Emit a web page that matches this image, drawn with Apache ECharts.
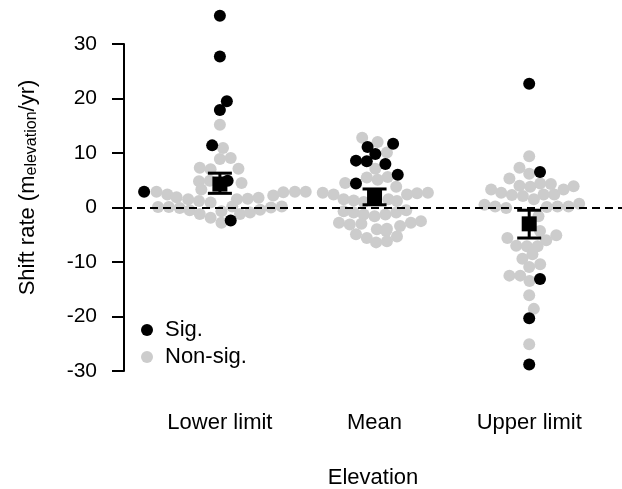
<!DOCTYPE html>
<html>
<head>
<meta charset="utf-8">
<script src="https://cdn.jsdelivr.net/npm/echarts@6/dist/echarts.min.js"></script>
<style>
html,body{margin:0;padding:0;background:#fff;}
#c{width:622px;height:489px;}
</style>
</head>
<body>
<div id="c"></div>
<script>
// Categories and tick labels
const categories = ['Lower limit', 'Mean', 'Upper limit'];
const yTicks = [-30, -20, -10, 0, 10, 20, 30];

// Points: [shift rate, horizontal swarm offset in category units]
const lowerSig = [[35.2,0.0],[27.7,0.0],[19.5,0.045],[17.9,0.0],[11.4,-0.05],[4.9,0.05],[2.9,-0.49],[-2.4,0.07]];
const lowerNon = [[15.2,0.0],[10.9,0.02],[8.9,0.0],[9.1,0.07],[7.3,-0.13],[7.0,-0.06],[7.1,0.12],[4.8,-0.135],[4.9,-0.065],[4.5,0.14],
  [3.3,-0.12],[2.9,-0.41],[2.4,-0.34],[1.9,-0.28],[1.5,-0.205],[1.2,-0.135],[1.5,0.11],[1.6,0.18],[1.8,0.25],[2.2,0.345],[2.8,0.41],[2.9,0.485],[2.9,0.555],
  [0.1,-0.40],[0.1,-0.33],[-0.1,-0.26],[-0.5,-0.195],[-1.2,-0.13],[-1.9,-0.06],[-2.8,0.01],[-0.7,0.01],[0.9,-0.06],[0.2,0.08],[-1.2,0.13],[-0.9,0.195],[-0.4,0.26],[0.0,0.33],[0.2,0.40]];
const meanSig = [[11.1,-0.045],[11.7,0.12],[9.8,0.005],[8.6,-0.12],[8.5,-0.05],[8.0,0.07],[6.0,0.15],[4.4,-0.12]];
const meanNon = [[12.8,-0.08],[12.0,0.02],[10.1,0.08],[7.1,0.005],[5.5,-0.05],[5.1,0.02],[5.6,0.085],[4.5,-0.19],[3.8,0.14],
  [2.7,-0.335],[2.4,-0.265],[1.5,-0.2],[1.3,-0.135],[1.0,-0.07],[1.5,0.09],[1.2,0.145],[2.4,0.21],[2.6,0.275],[2.7,0.345],
  [-0.7,-0.2],[-0.9,-0.135],[-1.3,-0.07],[-1.6,0.0],[-1.3,0.07],[-0.9,0.14],[-0.5,0.205],
  [-2.8,-0.23],[-3.1,-0.16],[-3.0,-0.085],[-3.9,0.08],[-3.4,0.165],[-2.8,0.235],[-2.5,0.30],
  [-4.9,-0.12],[-4.0,0.015],[-4.3,0.075],[-5.3,0.145],[-5.6,-0.05],[-6.4,0.01],[-6.2,0.08]];
const upperSig = [[22.7,0.0],[6.5,0.07],[-13.1,0.07],[-20.3,0.0],[-28.8,0.0]];
const upperNon = [[9.4,0.0],[7.3,-0.063],[6.2,0.0],[5.3,-0.128],[4.0,-0.063],[3.8,0.007],[4.4,0.071],[4.3,0.14],
  [3.3,-0.246],[2.7,-0.181],[2.3,-0.112],[2.1,-0.041],[1.5,0.03],[2.4,0.093],[2.4,0.162],[3.3,0.222],[3.9,0.287],
  [0.5,-0.289],[0.2,-0.22],[-0.1,-0.149],[0.1,0.114],[0.2,0.183],[0.2,0.254],[0.7,0.323],[-1.6,0.06],
  [-5.6,-0.141],[-4.3,0.07],[-5.1,0.175],[-6.0,0.11],[-7.0,-0.084],[-7.1,-0.015],[-7.1,0.054],[-8.6,0.021],[-9.4,-0.044],
  [-10.9,0.0],[-10.4,0.071],[-12.5,-0.128],[-12.5,-0.058],[-13.5,0.002],[-16.1,0.0],[-18.6,0.03],[-25.1,0.0]];

// Group means with error bars
const means = [4.3, 1.9, -3.0];
const errLow = [2.6, 0.5, -5.6];
const errHigh = [6.3, 3.4, -0.5];

const FONT = '"Liberation Sans", Arial, sans-serif';

function toXY(list, catIdx) {
  return list.map(([v, off]) => [catIdx + 1 + off, v]);
}
const sigData = [].concat(toXY(lowerSig,0), toXY(meanSig,1), toXY(upperSig,2));
const nonData = [].concat(toXY(lowerNon,0), toXY(meanNon,1), toXY(upperNon,2));
const meanData = means.map((m,i) => [i+1, m]);
const errData = means.map((m,i) => [i+1, errLow[i], errHigh[i]]);

const chart = echarts.init(document.getElementById('c'), null, {renderer:'canvas'});
chart.setOption({
  animation: false,
  backgroundColor: '#fff',
  textStyle: {fontFamily: FONT, color: '#000'},
  grid: {left: 124, right: 0, top: 44, bottom: 118, containLabel: false, outerBoundsMode: 'none'},
  legend: {
    data: ['Sig.', 'Non-sig.'],
    orient: 'vertical',
    left: 136, top: 314,
    icon: 'circle',
    itemWidth: 12, itemHeight: 12,
    itemGap: 5,
    textStyle: {fontFamily: FONT, fontSize: 22, color: '#000', padding: [0,0,0,7]}
  },
  xAxis: {
    type: 'value', min: 0.38, max: 3.6,
    axisLine: {show: false}, axisTick: {show: false}, splitLine: {show: false},
    axisLabel: {
      customValues: [1, 2, 3],
      formatter: v => categories[Math.round(v) - 1] || '',
      fontFamily: FONT, fontSize: 22, color: '#000', margin: 41
    },
    name: 'Elevation', nameLocation: 'middle', nameGap: 96,
    nameTextStyle: {fontFamily: FONT, fontSize: 22, color: '#000'}
  },
  yAxis: {
    type: 'value', min: -30, max: 30, interval: 10,
    axisLine: {show: true, lineStyle: {color: '#000', width: 2}},
    axisTick: {show: true, length: 12, lineStyle: {color: '#000', width: 2}},
    splitLine: {show: false},
    axisLabel: {fontFamily: FONT, fontSize: 21, color: '#000', margin: 27,
      formatter: v => yTicks.includes(v) ? String(v) : ''},
    name: '{a|Shift rate (m}{b|elevation}{a|/yr)}',
    nameLocation: 'middle', nameRotate: 90, nameGap: 84,
    nameTextStyle: {
      padding: [0, 0, 0, 40],
      rich: {
        a: {fontFamily: FONT, fontSize: 22, color: '#000'},
        b: {fontFamily: FONT, fontSize: 16, color: '#000', padding: [9,0,0,0]}
      }
    }
  },
  series: [
    {
      name: 'Non-sig.', type: 'scatter', data: nonData, symbolSize: 12, clip: false, z: 2,
      itemStyle: {color: '#cccccc', opacity: 1},
      markLine: {
        silent: true, symbol: 'none', label: {show: false},
        lineStyle: {color: '#000', width: 2, type: [8, 5]},
        data: [{yAxis: 0}]
      }
    },
    {
      name: 'Sig.', type: 'scatter', data: sigData, symbolSize: 12, clip: false, z: 3,
      itemStyle: {color: '#000', opacity: 1}
    },
    {
      name: 'err', type: 'custom', data: errData, z: 10, clip: false,
      renderItem: function(params, api) {
        const x = api.value(0);
        const pLo = api.coord([x, api.value(1)]);
        const pHi = api.coord([x, api.value(2)]);
        const hw = 12;
        const st = {stroke: '#000', lineWidth: 3};
        return {type: 'group', children: [
          {type: 'line', shape: {x1: pLo[0], y1: pLo[1], x2: pHi[0], y2: pHi[1]}, style: st},
          {type: 'line', shape: {x1: pLo[0]-hw, y1: pLo[1], x2: pLo[0]+hw, y2: pLo[1]}, style: st},
          {type: 'line', shape: {x1: pHi[0]-hw, y1: pHi[1], x2: pHi[0]+hw, y2: pHi[1]}, style: st}
        ]};
      }
    },
    {
      name: 'mean', type: 'scatter', data: meanData, symbol: 'rect', symbolSize: 15, z: 11,
      itemStyle: {color: '#000', opacity: 1}
    }
  ]
});
</script>
</body>
</html>
